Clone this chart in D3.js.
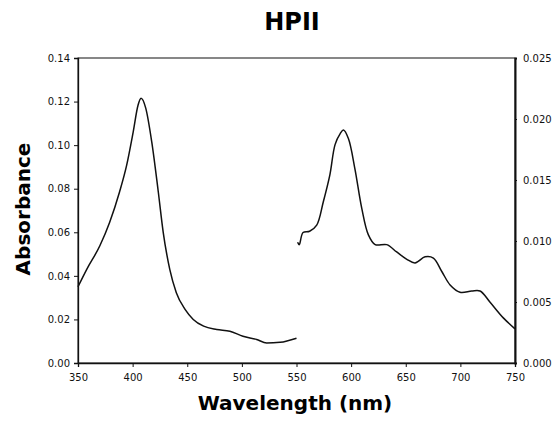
<!DOCTYPE html>
<html>
<head>
<meta charset="utf-8">
<script src="https://cdn.jsdelivr.net/npm/d3@7"></script>
<style>
  body { margin: 0; background: #fff; }
  svg { display: block; }
</style>
</head>
<body>
<svg id="chart" width="553" height="430"></svg>
<script>
// Soret region, read against the left axis
const soretWl  = [350, 358, 370, 379, 388, 394.5, 400.5, 405, 407.7, 412, 417.5, 423.5, 428, 434, 440, 448, 455.5, 465, 477, 489, 501, 513.5, 522.7, 535, 550];
const soretAbs = [0.035, 0.043, 0.0538, 0.0646, 0.0785, 0.0907, 0.106, 0.1184, 0.1215, 0.117, 0.1015, 0.0785, 0.060, 0.043, 0.0323, 0.0246, 0.020, 0.0169, 0.0154, 0.0146, 0.0123, 0.0108, 0.0092, 0.0095, 0.0114];

// visible region, read against the right axis
const visWl  = [551, 552.5, 556, 562, 568.5, 574.5, 580.5, 585.3, 590, 593, 597.5, 603.5, 609.7, 615.8, 622, 632.6, 641.7, 651, 658.5, 667.7, 675.3, 683, 690.6, 699.7, 710.4, 718, 727, 739.3, 750];
const visAbs = [0.0099, 0.0097, 0.0107, 0.0108, 0.0113, 0.0132, 0.0154, 0.0179, 0.0188, 0.0191, 0.0184, 0.0159, 0.0127, 0.0105, 0.0097, 0.0097, 0.0091, 0.0085, 0.0082, 0.0087, 0.0086, 0.0075, 0.0064, 0.0058, 0.0059, 0.0059, 0.0050, 0.0037, 0.0028];

const xTicks = [350, 400, 450, 500, 550, 600, 650, 700, 750];
const leftTicks = [0, 0.02, 0.04, 0.06, 0.08, 0.10, 0.12, 0.14];
const rightTicks = [0, 0.005, 0.010, 0.015, 0.020, 0.025];

const svg = d3.select("#chart");
const plot = {left: 78, right: 515, top: 58, bottom: 363};
const font = "DejaVu Sans, Verdana, sans-serif";

const xScale = d3.scaleLinear().domain([350, 750]).range([plot.left, plot.right]);
const yLeft = d3.scaleLinear().domain([0, 0.14]).range([plot.bottom, plot.top]);
const yRight = d3.scaleLinear().domain([0, 0.025]).range([plot.bottom, plot.top]);

// frame
svg.append("rect")
    .attr("x", plot.left)
    .attr("y", plot.top)
    .attr("width", plot.right - plot.left)
    .attr("height", plot.bottom - plot.top)
    .style("fill", "none")
    .style("stroke", "#111")
    .style("stroke-width", 1);

// axes
const xAxis = svg.append("g")
    .attr("transform", "translate(0," + plot.bottom + ")")
    .call(d3.axisBottom(xScale).tickValues(xTicks).tickSize(4).tickPadding(7).tickFormat(d3.format("d")));

const leftAxis = svg.append("g")
    .attr("transform", "translate(" + plot.left + ",0)")
    .call(d3.axisLeft(yLeft).tickValues(leftTicks).tickSize(4).tickPadding(4).tickFormat(d3.format(".2f")));

const rightAxis = svg.append("g")
    .attr("transform", "translate(" + plot.right + ",0)")
    .call(d3.axisRight(yRight).tickValues(rightTicks).tickSize(2).tickPadding(6).tickFormat(d3.format(".3f")));

[xAxis, leftAxis, rightAxis].forEach(function(g) {
    g.select(".domain").style("stroke", "#111").style("stroke-width", 1.3);
    g.selectAll(".tick line").style("stroke", "#111");
    g.selectAll("text").style("font-family", font).style("font-size", "10px").style("fill", "#111");
});
rightAxis.select(".domain").style("stroke-width", 2);

// spectra
const lineLeft = d3.line()
    .x(function(d, i) { return xScale(soretWl[i]); })
    .y(function(d) { return yLeft(d); })
    .curve(d3.curveMonotoneX);

const lineRight = d3.line()
    .x(function(d, i) { return xScale(visWl[i]); })
    .y(function(d) { return yRight(d); })
    .curve(d3.curveCatmullRom);

svg.append("path")
    .datum(soretAbs)
    .attr("d", lineLeft)
    .style("fill", "none")
    .style("stroke", "#111")
    .style("stroke-width", 1.5);

svg.append("path")
    .datum(visAbs)
    .attr("d", lineRight)
    .style("fill", "none")
    .style("stroke", "#111")
    .style("stroke-width", 1.5);

// titles
svg.append("text")
    .attr("x", 292)
    .attr("y", 30)
    .attr("text-anchor", "middle")
    .style("font-family", font)
    .style("font-weight", "bold")
    .style("font-size", "24px")
    .text("HPII");

svg.append("text")
    .attr("x", 295)
    .attr("y", 410)
    .attr("text-anchor", "middle")
    .style("font-family", font)
    .style("font-weight", "bold")
    .style("font-size", "20px")
    .text("Wavelength (nm)");

svg.append("text")
    .attr("transform", "translate(30,209)rotate(-90)")
    .attr("text-anchor", "middle")
    .style("font-family", font)
    .style("font-weight", "bold")
    .style("font-size", "20px")
    .text("Absorbance");
</script>
</body>
</html>
